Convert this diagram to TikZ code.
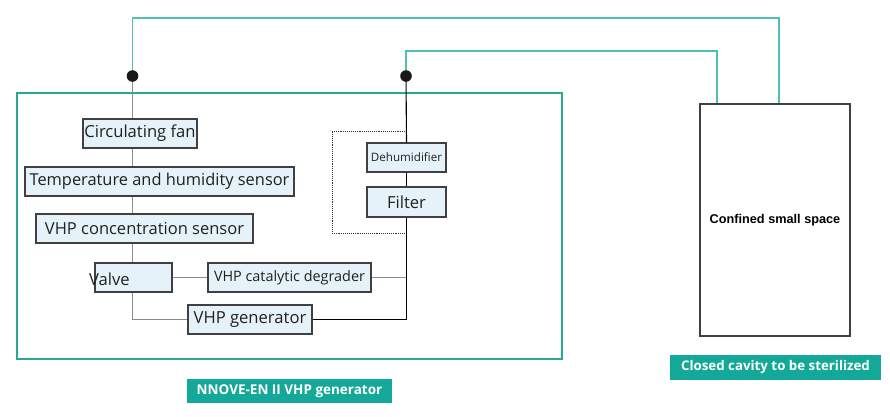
\documentclass[tikz,border=0pt]{standalone}
\usepackage{fontspec}
\setmainfont{Open Sans}
\newfontfamily\arialfont{Liberation Sans}
\definecolor{tealline}{HTML}{4EC0B4}
\definecolor{tealbox}{HTML}{2AA797}
\definecolor{tealfill}{HTML}{14A898}
\definecolor{boxfill}{HTML}{E6F2FA}
\definecolor{boxline}{HTML}{404040}
\definecolor{conngray}{HTML}{8C8C8C}
\definecolor{txt}{HTML}{202020}
\begin{document}
\begin{tikzpicture}[x=1pt,y=-1pt,
  comp/.style={draw=boxline, fill=boxfill, line width=1.2pt, inner sep=0pt, text=txt,
    minimum height=29pt, font=\fontsize{16.6}{18}\selectfont},
  tag/.style={fill=tealfill, text=white, inner sep=0pt, minimum height=24pt,
    font=\fontsize{13.5}{15}\selectfont\bfseries},
  tealwire/.style={draw=tealline, line width=1.6pt},
  graywire/.style={draw=conngray, line width=1pt},
  blackwire/.style={draw=black, line width=1.1pt},
  dotmark/.style={fill=black!90, draw=none}]
\useasboundingbox (0,0) rectangle (890,416);

% frames
\node[draw=tealbox, line width=1.6pt, minimum width=545pt, minimum height=266pt, inner sep=0pt] (outer) at (289.5,226) {};
\node[draw=boxline, line width=1.4pt, minimum width=150pt, minimum height=232pt, inner sep=0pt,
  font=\arialfont\fontsize{12.7}{14}\selectfont\bfseries] (conf) at (775,220) {Confined small space};

% components
\node[comp, minimum width=114pt] (fan) at (140,133.5) {Circulating fan};
\node[comp, minimum width=269pt, font=\fontsize{16.4}{18}\selectfont] (temp) at (159.5,181.5) {Temperature and humidity sensor};
\node[comp, minimum width=217pt, font=\fontsize{16.5}{18}\selectfont] (conc) at (144.5,228.5) {VHP concentration sensor};
\node[comp, minimum width=77pt] (valve) at (133.5,277.5) {};
\node[anchor=west, inner sep=0pt, text=txt, font=\fontsize{16.6}{18}\selectfont] (valvetxt) at (89,279) {Valve};
\node[comp, minimum width=163pt, font=\fontsize{14.4}{16}\selectfont] (degr) at (289.5,277.5) {VHP catalytic degrader};
\node[comp, minimum width=124pt] (gen) at (250,319.5) {VHP generator};
\node[comp, minimum width=79pt, font=\fontsize{11.6}{13}\selectfont] (dehum) at (406.5,157.5) {Dehumidifier};
\node[comp, minimum width=79pt, minimum height=30pt] (filter) at (406.5,202) {Filter};

% tags
\node[tag, minimum width=205pt] (tag1) at (289.5,391) {NNOVE-EN II VHP generator};
\node[tag, minimum width=211pt, minimum height=25pt, font=\fontsize{13.3}{15}\selectfont\bfseries] (tag2) at (775.5,367.5) {Closed cavity to be sterilized};

% junctions
\coordinate (dotL) at (132.5,76);
\coordinate (dotR) at (406,76);
\coordinate (t1) at (779,18);
\coordinate (t2) at (717,51);

% teal pipes
\draw[tealwire] (dotL) |- (t1) -- (t1 |- conf.north);
\draw[tealwire] (dotR) |- (t2) -- (t2 |- conf.north);

% left chain
\draw[graywire] (dotL) -- (dotL |- fan.north);
\draw[graywire] (dotL |- fan.south) -- (dotL |- temp.north);
\draw[graywire] (dotL |- temp.south) -- (dotL |- conc.north);
\draw[graywire] (dotL |- conc.south) -- (dotL |- valve.north);
\draw[graywire] (dotL |- valve.south) |- (gen.west);
\draw[graywire] (valve.east) -- (degr.west);
\draw[graywire] (degr.east) -- (degr.east -| dotR);

% right chain
\draw[blackwire] (dotR) -- (dehum.north);
\draw[blackwire] (dehum.south) -- (filter.north);
\draw[blackwire] (filter.south) |- (gen.east);

% dotted enclosure
\coordinate (d1) at (405,131);
\coordinate (d2) at (332,233);
\draw[black!80, densely dotted, line width=0.9pt] (d1) -| (d2) -- (d2 -| d1);

% junction dots
\fill[dotmark] (dotL) circle (5.8pt);
\fill[dotmark] (dotR) circle (5.8pt);
\end{tikzpicture}
\end{document}
